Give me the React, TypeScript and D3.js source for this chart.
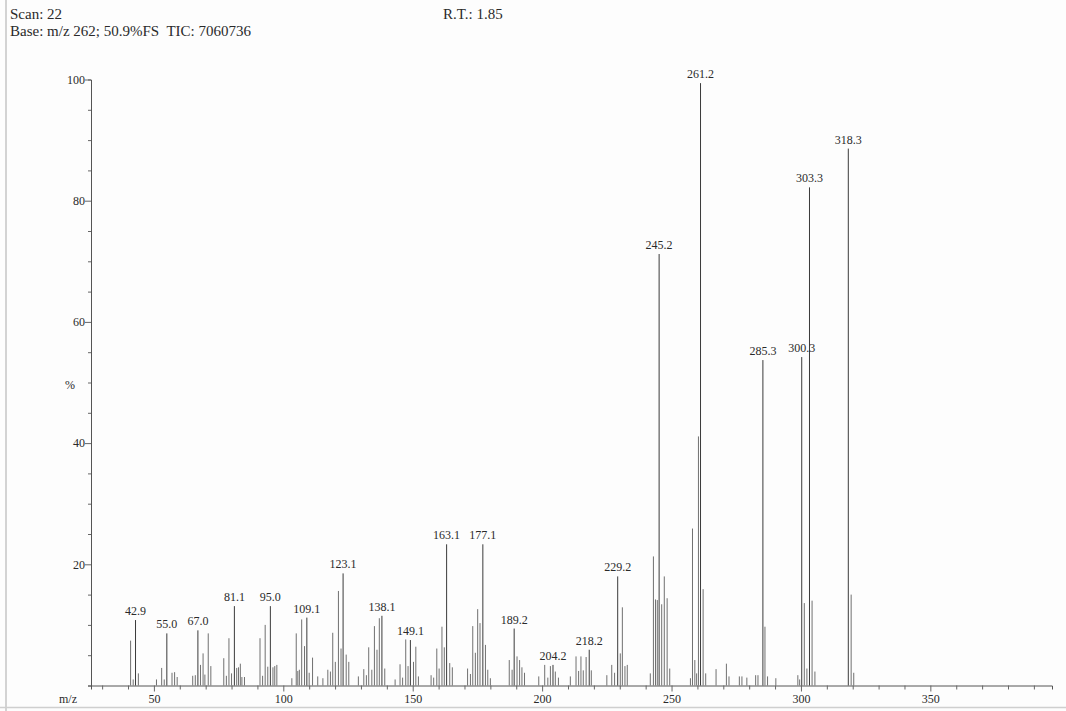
import * as d3 from "d3";
import { useEffect, useRef } from "react";

// peak positions (m/z) and relative intensity (%)
const peakMz = [
  41, 42, 42.9, 44, 51, 53, 54, 55.0, 57, 58, 59,
  65, 66, 67.0, 68, 69, 69.7, 71, 72,
  77, 78, 79, 80, 81.1, 82, 82.7, 83.4, 84, 85,
  91, 92, 93, 94, 95.0, 96, 96.7, 97.5,
  103.3, 105, 105.6, 106.2, 107.1, 108.2, 109.1, 110, 111.3, 113.3, 115.3,
  117.2, 118.2, 119.1, 120.1, 121.3, 122.3, 123.1, 124.3, 125.3,
  129, 131.1, 132.1, 133, 134.2, 135.2, 136.2, 137.1, 138.1, 139.2,
  143.2, 145.1, 146.1, 147.3, 148.2, 149.1, 150.3, 151.2, 152.2,
  157.1, 158.1, 159.3, 160.2, 161.3, 162.2, 163.1, 164.3, 165.3,
  171.2, 172.3, 173.2, 174.2, 175.1, 176, 177.1, 178.1, 179, 180,
  187.3, 188.4, 189.2, 190.3, 191.3, 192.2, 193.2,
  198.7, 201, 202.2, 203.2, 204.2, 205.1, 206.3,
  210.9, 213.1, 214.1, 215, 215.9, 217, 218.2, 219,
  225, 226.9, 228, 229.2, 230.2, 231, 232, 232.9,
  241.8, 243, 243.8, 244.5, 245.2, 246.2, 247.2, 248.3, 249.3,
  257.3, 258.1, 259, 259.7, 260.4, 261.2, 262.2, 263.2,
  267.2, 271.2, 272.2, 276.2, 277.2, 279.1, 282.5, 283.4,
  285.3, 286.1, 287.1, 290.3,
  298.8, 299.5, 300.3, 301.3, 302.3, 303.3, 304.3, 305.4,
  318.3, 319.4, 320.4,
];
const peakPct = [
  7.4, 1.0, 10.8, 2.0, 1.0, 2.9, 1.0, 8.6, 2.1, 2.2, 1.4,
  1.6, 1.7, 9.1, 3.4, 5.3, 1.8, 8.6, 3.2,
  4.5, 1.6, 7.8, 2.0, 13.1, 2.9, 3.0, 3.6, 1.4, 1.4,
  7.8, 1.6, 10.0, 3.1, 13.1, 3.0, 3.2, 3.4,
  1.2, 8.6, 2.4, 2.6, 10.9, 6.5, 11.2, 2.1, 4.6, 1.5, 1.2,
  2.6, 2.3, 8.7, 3.9, 15.6, 6.1, 18.5, 5.1, 3.9,
  1.5, 2.7, 1.7, 6.3, 2.6, 9.8, 5.9, 11.1, 11.5, 2.8,
  1.0, 3.5, 1.3, 7.6, 3.2, 7.5, 3.9, 6.4, 1.5,
  1.7, 1.3, 6.1, 2.8, 9.7, 6.3, 23.3, 3.7, 3.0,
  2.8, 1.9, 9.8, 5.4, 12.6, 10.3, 23.3, 6.7, 2.6, 1.2,
  4.2, 2.6, 9.4, 4.8, 4.2, 3.0, 2.1,
  1.5, 3.4, 1.3, 3.2, 3.4, 2.3, 1.3,
  1.5, 4.8, 2.4, 4.8, 2.5, 4.7, 5.9, 2.5,
  1.7, 3.4, 2.1, 18.0, 5.3, 12.9, 3.2, 3.4,
  2.0, 21.3, 14.2, 14.1, 71.2, 13.4, 18.0, 14.4, 2.8,
  1.2, 25.9, 4.2, 2.0, 41.1, 99.4, 15.9, 2.0,
  2.7, 3.6, 1.5, 1.5, 1.5, 1.3, 1.7, 1.7,
  53.7, 9.7, 1.5, 1.2,
  1.7, 1.0, 54.2, 13.6, 2.8, 82.2, 14.0, 2.3,
  88.6, 15.0, 2.1,
];
// peaks carrying an m/z label
const labelledMz = [
  42.9, 55.0, 67.0, 81.1, 95.0, 109.1, 123.1, 138.1, 149.1, 163.1, 177.1,
  189.2, 204.2, 218.2, 229.2, 245.2, 261.2, 285.3, 300.3, 303.3, 318.3,
];
const xMajorTicks = [50, 100, 150, 200, 250, 300, 350];
const yMajorTicks = [20, 40, 60, 80, 100];

const headerLines = ["Scan: 22", "Base: m/z 262; 50.9%FS  TIC: 7060736"];
const rtText = "R.T.: 1.85";

export default function App() {
  const ref = useRef<SVGSVGElement | null>(null);

  useEffect(() => {
    if (!ref.current) return;
    const svg = d3.select(ref.current);
    svg.selectAll("*").remove();

    const W = 1066;
    const H = 711;
    const font = "'Liberation Serif', 'Times New Roman', serif";
    const ink = "#2a2a2a";

    svg.attr("width", W).attr("height", H).style("font-family", font);
    svg.append("rect").attr("width", W).attr("height", H).attr("fill", "#fdfdfd");

    // scan edges
    svg.append("line").attr("x1", 6).attr("x2", 6).attr("y1", 0).attr("y2", H)
      .attr("stroke", "#c4c4c4").attr("stroke-width", 1.5);
    svg.append("line").attr("x1", 0).attr("x2", W).attr("y1", 707.5).attr("y2", 707.5)
      .attr("stroke", "#cfcfcf").attr("stroke-width", 1.5);

    /* -----------------------------
        SCALES
    ----------------------------- */
    const x = d3.scaleLinear().domain([25.7, 397]).range([91, 1052]);
    const y = d3.scaleLinear().domain([0, 100]).range([685.5, 79.5]);

    /* -----------------------------
        HEADER
    ----------------------------- */
    headerLines.forEach((t, i) => {
      svg.append("text").attr("x", 10).attr("y", 19 + i * 17)
        .attr("xml:space", "preserve").style("white-space", "pre")
        .style("font-size", "15px").attr("fill", ink).text(t);
    });
    svg.append("text").attr("x", 443).attr("y", 19)
      .style("font-size", "15px").attr("fill", ink).text(rtText);

    /* -----------------------------
        AXES
    ----------------------------- */
    const xAxis = svg.append("g").attr("transform", `translate(0, ${y(0)})`)
      .call(
        d3.axisBottom(x)
          .tickValues(d3.range(30, 391, 10))
          .tickSizeOuter(0)
          .tickSize(4)
          .tickFormat((d) => (xMajorTicks.includes(+d) ? String(d) : ""))
      );
    xAxis.select(".domain").attr("stroke", "#555");
    xAxis.selectAll(".tick line").attr("stroke", "#666")
      .attr("y2", (d: any) => (xMajorTicks.includes(+d) ? 6 : 4));
    xAxis.selectAll(".tick text").attr("y", 9).style("font-size", "12px")
      .style("font-family", font).attr("fill", ink);

    const yAxis = svg.append("g").attr("transform", `translate(${x(25.7)}, 0)`)
      .call(
        d3.axisLeft(y)
          .tickValues(d3.range(0, 101, 5))
          .tickSizeOuter(0)
          .tickSize(3)
          .tickFormat((d) => (yMajorTicks.includes(+d) ? String(d) : ""))
      );
    yAxis.select(".domain").attr("stroke", "#555");
    yAxis.selectAll(".tick line").attr("stroke", "#666")
      .attr("x2", (d: any) => (yMajorTicks.includes(+d) ? -6 : -3));
    yAxis.selectAll(".tick text").attr("x", -6).style("font-size", "12px")
      .style("font-family", font).attr("fill", ink);

    svg.append("text").attr("x", 70).attr("y", 389).attr("text-anchor", "middle")
      .style("font-size", "12px").attr("fill", ink).text("%");
    svg.append("text").attr("x", 68).attr("y", 703).attr("text-anchor", "middle")
      .style("font-size", "12px").attr("fill", ink).text("m/z");

    /* -----------------------------
        PEAKS
    ----------------------------- */
    const peaks = peakMz.map((mz, i) => ({ mz, pct: peakPct[i] }));

    svg.append("g").selectAll("line").data(peaks).enter().append("line")
      .attr("x1", (d) => x(d.mz)).attr("x2", (d) => x(d.mz))
      .attr("y1", y(0)).attr("y2", (d) => y(d.pct))
      .attr("stroke", (d) => (labelledMz.includes(d.mz) ? "#3a3a3a" : "#707070"))
      .attr("stroke-width", 1);

    /* -----------------------------
        PEAK LABELS
    ----------------------------- */
    const labelled = peaks.filter((d) => labelledMz.includes(d.mz));
    svg.append("g").selectAll("text").data(labelled).enter().append("text")
      .attr("x", (d) => x(d.mz)).attr("y", (d) => y(d.pct) - 5)
      .attr("text-anchor", "middle")
      .style("font-size", "12px").attr("fill", ink)
      .text((d) => d.mz.toFixed(1));
  }, []);

  return <svg ref={ref} style={{ position: "absolute", left: 0, top: 0, display: "block" }} />;
}
